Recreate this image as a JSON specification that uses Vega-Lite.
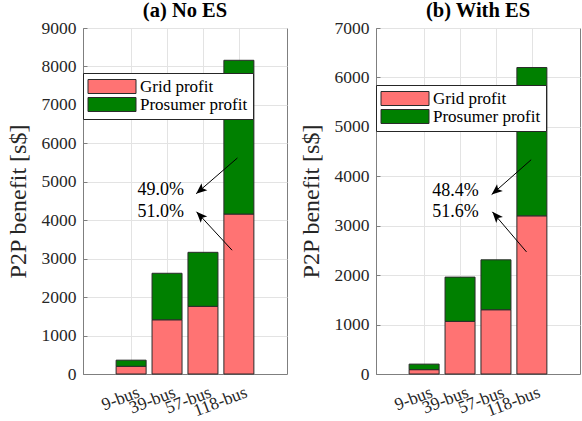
{
  "$schema": "https://vega.github.io/schema/vega-lite/v6.json",
  "padding": {"left": 5, "top": 0, "right": 5, "bottom": 0},
  "background": "white",
  "config": {
    "font": "Liberation Serif, Times New Roman, serif",
    "view": {"stroke": "#7f7f7f", "strokeWidth": 1},
    "axis": {
      "labelFont": "Liberation Serif, Times New Roman, serif",
      "titleFont": "Liberation Serif, Times New Roman, serif",
      "labelFontSize": 17.5,
      "titleFontSize": 24,
      "titleFontWeight": "normal",
      "labelColor": "#262626",
      "titleColor": "#262626",
      "domainColor": "#7f7f7f",
      "tickColor": "#7f7f7f",
      "gridColor": "#e3e3e3",
      "gridWidth": 1,
      "labelOverlap": false,
      "format": "d"
    },
    "title": {"font": "Liberation Serif, Times New Roman, serif", "fontSize": 20.5, "fontWeight": "bold", "color": "#000000", "offset": -2},
    "legend": {"labelFont": "Liberation Serif, Times New Roman, serif"}
  },
  "datasets": {
    "bars_a": [
      {"idx": 1, "bus": "9-bus", "type": "Grid profit", "value": 200},
      {"idx": 1, "bus": "9-bus", "type": "Prosumer profit", "value": 160},
      {"idx": 2, "bus": "39-bus", "type": "Grid profit", "value": 1410},
      {"idx": 2, "bus": "39-bus", "type": "Prosumer profit", "value": 1210},
      {"idx": 3, "bus": "57-bus", "type": "Grid profit", "value": 1760},
      {"idx": 3, "bus": "57-bus", "type": "Prosumer profit", "value": 1405},
      {"idx": 4, "bus": "118-bus", "type": "Grid profit", "value": 4160},
      {"idx": 4, "bus": "118-bus", "type": "Prosumer profit", "value": 4000}
    ],
    "bars_b": [
      {"idx": 1, "bus": "9-bus", "type": "Grid profit", "value": 88},
      {"idx": 1, "bus": "9-bus", "type": "Prosumer profit", "value": 112},
      {"idx": 2, "bus": "39-bus", "type": "Grid profit", "value": 1065},
      {"idx": 2, "bus": "39-bus", "type": "Prosumer profit", "value": 895},
      {"idx": 3, "bus": "57-bus", "type": "Grid profit", "value": 1300},
      {"idx": 3, "bus": "57-bus", "type": "Prosumer profit", "value": 1010},
      {"idx": 4, "bus": "118-bus", "type": "Grid profit", "value": 3200},
      {"idx": 4, "bus": "118-bus", "type": "Prosumer profit", "value": 3000}
    ],
    "text_a": [
      {"x": 1.18, "y": 4790, "label": "49.0%"},
      {"x": 1.18, "y": 4210, "label": "51.0%"}
    ],
    "text_b": [
      {"x": 1.23, "y": 3700, "label": "48.4%"},
      {"x": 1.23, "y": 3280, "label": "51.6%"}
    ],
    "arrows_a": [
      {"arrow": "upper", "x": 3.96, "y": 5620, "x2": 2.81, "y2": 4690},
      {"arrow": "lower", "x": 3.81, "y": 3220, "x2": 2.82, "y2": 4220}
    ],
    "arrows_b": [
      {"arrow": "upper", "x": 3.98, "y": 4335, "x2": 2.88, "y2": 3630},
      {"arrow": "lower", "x": 3.85, "y": 2470, "x2": 2.90, "y2": 3280}
    ]
  },
  "hconcat": [
    {
      "width": 204,
      "height": 346,
      "title": {"text": "(a) No ES"},
      "encoding": {
        "x": {
          "type": "quantitative",
          "scale": {"domain": [-0.2, 5.2], "nice": false, "zero": false},
          "axis": {"values": [1, 2, 3, 4], "title": null, "labelAngle": -21, "labelOffset": 4, "labelOverlap": false, "labelExpr": "datum.value == 1 ? '9-bus' : datum.value == 2 ? '39-bus' : datum.value == 3 ? '57-bus' : '118-bus'", "tickSize": -4, "labelPadding": 13, "labelFontSize": 17.5}
        },
        "y": {
          "type": "quantitative",
          "scale": {"domain": [0, 9000], "nice": false},
          "axis": {"values": [0, 1000, 2000, 3000, 4000, 5000, 6000, 7000, 8000, 9000], "labelOverlap": false, "title": "P2P benefit [s$]", "tickSize": -4, "labelPadding": 11, "titlePadding": 11}
        }
      },
      "layer": [
        {
          "data": {"name": "bars_a"},
          "mark": {"type": "bar", "width": 30, "stroke": "#2b2b2b", "strokeWidth": 1},
          "encoding": {
            "x": {"field": "idx"},
            "y": {"field": "value", "stack": "zero"},
            "order": {"field": "type", "type": "nominal", "sort": "ascending"},
            "color": {
              "field": "type", "type": "nominal",
              "scale": {"domain": ["Grid profit", "Prosumer profit"], "range": ["#ff7373", "#008000"]},
              "legend": {
                "orient": "none", "legendX": 0, "legendY": 45, "title": null,
                "symbolType": "M-3,-0.875H3V0.875H-3Z", "symbolSize": 256,
                "symbolOffset": 15.5, "labelOffset": 19.5,
                "symbolStrokeColor": "#2b2b2b", "symbolStrokeWidth": 1,
                "labelFontSize": 17, "labelColor": "#000000",
                "fillColor": "white", "strokeColor": "#262626",
                "padding": 5, "rowPadding": -2
              }
            }
          }
        },
        {
          "data": {"name": "arrows_a"},
          "mark": {"type": "rule", "color": "#000000", "strokeWidth": 1},
          "encoding": {
            "x": {"field": "x"},
            "y": {"field": "y"},
            "x2": {"field": "x2"},
            "y2": {"field": "y2"}
          }
        },
        {
          "data": {"name": "arrows_a"},
          "transform": [{"filter": "datum.arrow == 'upper'"}],
          "mark": {"type": "point", "shape": "M0,0L-0.75,1.8L0,1.4L0.75,1.8Z", "size": 144, "filled": true, "color": "#000000", "opacity": 1, "angle": 230},
          "encoding": {
            "x": {"field": "x2"},
            "y": {"field": "y2"}
          }
        },
        {
          "data": {"name": "arrows_a"},
          "transform": [{"filter": "datum.arrow == 'lower'"}],
          "mark": {"type": "point", "shape": "M0,0L-0.75,1.8L0,1.4L0.75,1.8Z", "size": 144, "filled": true, "color": "#000000", "opacity": 1, "angle": 316},
          "encoding": {
            "x": {"field": "x2"},
            "y": {"field": "y2"}
          }
        },
        {
          "data": {"name": "text_a"},
          "mark": {"type": "text", "align": "left", "baseline": "middle", "fontSize": 18, "font": "Liberation Serif, Times New Roman, serif", "color": "#000000"},
          "encoding": {
            "x": {"field": "x"},
            "y": {"field": "y"},
            "text": {"field": "label"}
          }
        }
      ]
    },
    {
      "width": 204,
      "height": 346,
      "title": {"text": "(b) With ES"},
      "encoding": {
        "x": {
          "type": "quantitative",
          "scale": {"domain": [-0.2, 5.2], "nice": false, "zero": false},
          "axis": {"values": [1, 2, 3, 4], "title": null, "labelAngle": -21, "labelOffset": 4, "labelOverlap": false, "labelExpr": "datum.value == 1 ? '9-bus' : datum.value == 2 ? '39-bus' : datum.value == 3 ? '57-bus' : '118-bus'", "tickSize": -4, "labelPadding": 13, "labelFontSize": 17.5}
        },
        "y": {
          "type": "quantitative",
          "scale": {"domain": [0, 7000], "nice": false},
          "axis": {"values": [0, 1000, 2000, 3000, 4000, 5000, 6000, 7000], "labelOverlap": false, "title": "P2P benefit [s$]", "tickSize": -4, "labelPadding": 11, "titlePadding": 11}
        }
      },
      "layer": [
        {
          "data": {"name": "bars_b"},
          "mark": {"type": "bar", "width": 30, "stroke": "#2b2b2b", "strokeWidth": 1},
          "encoding": {
            "x": {"field": "idx"},
            "y": {"field": "value", "stack": "zero"},
            "order": {"field": "type", "type": "nominal", "sort": "ascending"},
            "color": {
              "field": "type", "type": "nominal",
              "scale": {"domain": ["Grid profit", "Prosumer profit"], "range": ["#ff7373", "#008000"]},
              "legend": {
                "orient": "none", "legendX": 0, "legendY": 57, "title": null,
                "symbolType": "M-3,-0.875H3V0.875H-3Z", "symbolSize": 256,
                "symbolOffset": 15.5, "labelOffset": 19.5,
                "symbolStrokeColor": "#2b2b2b", "symbolStrokeWidth": 1,
                "labelFontSize": 17, "labelColor": "#000000",
                "fillColor": "white", "strokeColor": "#262626",
                "padding": 5, "rowPadding": -2
              }
            }
          }
        },
        {
          "data": {"name": "arrows_b"},
          "mark": {"type": "rule", "color": "#000000", "strokeWidth": 1},
          "encoding": {
            "x": {"field": "x"},
            "y": {"field": "y"},
            "x2": {"field": "x2"},
            "y2": {"field": "y2"}
          }
        },
        {
          "data": {"name": "arrows_b"},
          "transform": [{"filter": "datum.arrow == 'upper'"}],
          "mark": {"type": "point", "shape": "M0,0L-0.75,1.8L0,1.4L0.75,1.8Z", "size": 144, "filled": true, "color": "#000000", "opacity": 1, "angle": 230},
          "encoding": {
            "x": {"field": "x2"},
            "y": {"field": "y2"}
          }
        },
        {
          "data": {"name": "arrows_b"},
          "transform": [{"filter": "datum.arrow == 'lower'"}],
          "mark": {"type": "point", "shape": "M0,0L-0.75,1.8L0,1.4L0.75,1.8Z", "size": 144, "filled": true, "color": "#000000", "opacity": 1, "angle": 318},
          "encoding": {
            "x": {"field": "x2"},
            "y": {"field": "y2"}
          }
        },
        {
          "data": {"name": "text_b"},
          "mark": {"type": "text", "align": "left", "baseline": "middle", "fontSize": 18, "font": "Liberation Serif, Times New Roman, serif", "color": "#000000"},
          "encoding": {
            "x": {"field": "x"},
            "y": {"field": "y"},
            "text": {"field": "label"}
          }
        }
      ]
    }
  ],
  "spacing": 10,
  "resolve": {"scale": {"color": "independent"}, "legend": {"color": "independent"}}
}
